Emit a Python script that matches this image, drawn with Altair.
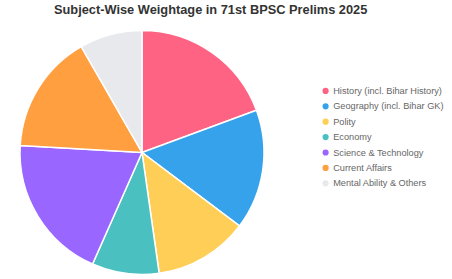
import altair as alt
import pandas as pd

subjects = [
    "History (incl. Bihar History)",
    "Geography (incl. Bihar GK)",
    "Polity",
    "Economy",
    "Science & Technology",
    "Current Affairs",
    "Mental Ability & Others",
]
weights = [19.4, 15.9, 12.5, 8.9, 19.3, 15.8, 8.3]
colors = ["#FF6384", "#36A2EB", "#FFCE56", "#4BC0C0", "#9966FF", "#FF9F40", "#E7E9ED"]

df = pd.DataFrame({"subject": subjects, "weight": weights, "order": list(range(len(subjects)))})

chart = (
    alt.Chart(df)
    .mark_arc(radius=122, stroke="white", strokeWidth=1.5)
    .encode(
        theta=alt.Theta("weight:Q", stack=True),
        order=alt.Order("order:Q"),
        color=alt.Color(
            "subject:N",
            scale=alt.Scale(domain=subjects, range=colors),
            sort=subjects,
            legend=alt.Legend(
                title=None,
                orient="none",
                legendX=321,
                legendY=86.3,
                symbolType="circle",
                symbolSize=38,
                symbolStrokeWidth=0,
                labelFontSize=9.2,
                labelColor="#666666",
                labelFont="Liberation Sans",
                rowPadding=5.4,
                labelOffset=3,
                labelLimit=200,
            ),
        ),
        x=alt.value(142),
        y=alt.value(152.5),
    )
    .properties(
        width=452,
        height=279,
        title=alt.TitleParams(
            "Subject-Wise Weightage in 71st BPSC Prelims 2025",
            font="Liberation Sans",
            fontSize=12.8,
            fontWeight="bold",
            color="#333333",
            anchor="start",
            dx=54,
            dy=20.5,
        ),
        autosize=alt.AutoSizeParams(type="none"),
        padding=0,
    )
    .configure_view(stroke=None)
)

chart.save("out.html", embed_options={"renderer": "svg", "actions": False})
